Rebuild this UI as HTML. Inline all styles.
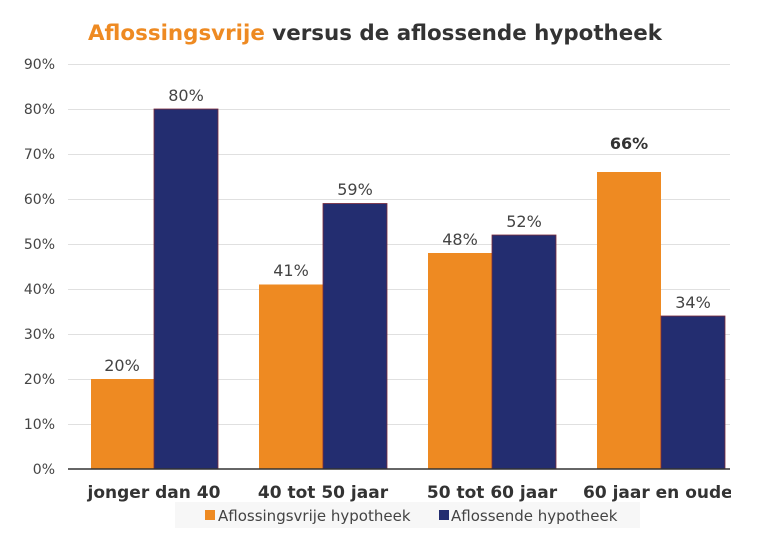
<!DOCTYPE html>
<html><head><meta charset="utf-8"><style>
body{margin:0;background:#fff;}
svg{display:block;font-family:"DejaVu Sans","Liberation Sans",sans-serif;}
</style></head><body>
<svg width="768" height="542" viewBox="0 0 768 542">
<defs><clipPath id="c"><rect x="0" y="0" width="731" height="542"/></clipPath></defs>
<text x="88" y="40" font-size="21.4" font-weight="bold" fill="#333"><tspan fill="#ee8a22">Aflossingsvrije</tspan> versus de aflossende hypotheek</text>
<g stroke="#e0e0e0" stroke-width="1">
<line x1="68" x2="730" y1="64.5" y2="64.5"/><line x1="68" x2="730" y1="109.5" y2="109.5"/>
<line x1="68" x2="730" y1="154.5" y2="154.5"/><line x1="68" x2="730" y1="199.5" y2="199.5"/>
<line x1="68" x2="730" y1="244.5" y2="244.5"/><line x1="68" x2="730" y1="289.5" y2="289.5"/>
<line x1="68" x2="730" y1="334.5" y2="334.5"/><line x1="68" x2="730" y1="379.5" y2="379.5"/>
<line x1="68" x2="730" y1="424.5" y2="424.5"/>
</g>
<g font-size="14" fill="#444" text-anchor="end">
<text x="55" y="69">90%</text><text x="55" y="114">80%</text><text x="55" y="159">70%</text>
<text x="55" y="204">60%</text><text x="55" y="249">50%</text><text x="55" y="294">40%</text>
<text x="55" y="339">30%</text><text x="55" y="384">20%</text><text x="55" y="429">10%</text>
<text x="55" y="474">0%</text>
</g>
<g fill="#ee8a22">
<rect x="91" y="379" width="63" height="90"/>
<rect x="259" y="284.5" width="64" height="184.5"/>
<rect x="428" y="253" width="64" height="216"/>
<rect x="597" y="172" width="64" height="297"/>
</g>
<g fill="#232d70" stroke="#7a2a3a" stroke-width="0.8">
<rect x="154" y="109" width="64" height="360"/>
<rect x="323" y="203.5" width="64" height="265.5"/>
<rect x="492" y="235" width="64" height="234"/>
<rect x="661" y="316" width="64" height="153"/>
</g>
<line x1="68" x2="730" y1="469" y2="469" stroke="#333" stroke-width="1.5"/>
<g font-size="16" fill="#444" text-anchor="middle">
<text x="122" y="371">20%</text><text x="186" y="101">80%</text>
<text x="291" y="276">41%</text><text x="355" y="195">59%</text>
<text x="460" y="245">48%</text><text x="524" y="227">52%</text>
<text x="629" y="149" font-weight="bold" fill="#333">66%</text><text x="693" y="308">34%</text>
</g>
<g font-size="17" font-weight="bold" fill="#333" text-anchor="middle" clip-path="url(#c)">
<text x="154" y="498">jonger dan 40</text>
<text x="323" y="498">40 tot 50 jaar</text>
<text x="492" y="498">50 tot 60 jaar</text>
<text x="583" y="498" text-anchor="start">60 jaar en ouder</text>
</g>
<rect x="175" y="502" width="465" height="26" fill="#f7f7f7"/>
<rect x="205" y="510" width="10" height="10" fill="#ee8a22"/>
<text x="218" y="521" font-size="15" fill="#444">Aflossingsvrije hypotheek</text>
<rect x="439" y="510" width="10" height="10" fill="#232d70"/>
<text x="451" y="521" font-size="15" fill="#444">Aflossende hypotheek</text>
</svg>
</body></html>
